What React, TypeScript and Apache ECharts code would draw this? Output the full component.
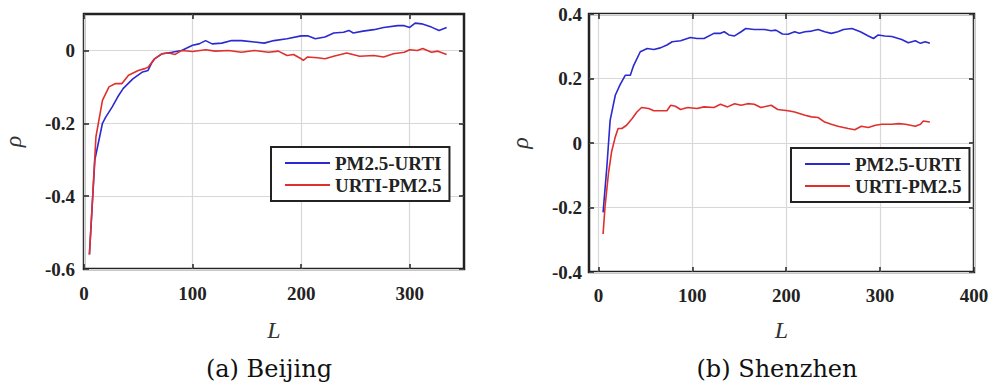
import React, { useEffect, useRef } from "react";
import * as echarts from "echarts";

// Beijing (a)
const bjBlueL = [5, 10, 17, 20, 26, 31, 36, 45, 54, 59, 62, 65, 72, 81, 90, 100, 106, 112, 118, 127, 136, 145, 157, 166, 175, 187, 200, 206, 213, 222, 230, 239, 244, 248, 257, 267, 276, 289, 295, 300, 305, 311, 320, 327, 334];
const bjBlueV = [-0.56, -0.30, -0.20, -0.183, -0.155, -0.128, -0.105, -0.078, -0.059, -0.055, -0.036, -0.023, -0.009, -0.005, 0.0, 0.014, 0.018, 0.027, 0.018, 0.02, 0.027, 0.027, 0.023, 0.02, 0.027, 0.032, 0.04, 0.04, 0.032, 0.037, 0.048, 0.05, 0.055, 0.048, 0.053, 0.057, 0.063, 0.068, 0.068, 0.063, 0.075, 0.073, 0.064, 0.055, 0.063];
const bjRedL = [5, 11, 17, 23, 29, 35, 41, 50, 56, 59, 65, 72, 78, 84, 90, 100, 112, 121, 133, 145, 157, 170, 179, 187, 193, 200, 202, 206, 215, 222, 230, 242, 254, 267, 276, 285, 295, 300, 307, 312, 320, 326, 334];
const bjRedV = [-0.56, -0.237, -0.137, -0.1, -0.091, -0.091, -0.068, -0.055, -0.05, -0.046, -0.023, -0.009, -0.007, -0.011, 0.0, -0.003, 0.002, -0.002, 0.0, -0.005, 0.0, -0.005, -0.002, -0.014, -0.011, -0.023, -0.027, -0.018, -0.02, -0.023, -0.016, -0.007, -0.016, -0.014, -0.018, -0.009, -0.005, 0.002, 0.0, 0.005, -0.005, -0.002, -0.011];

// Shenzhen (b)
const szBlueL = [5, 9, 12.5, 18, 23, 28.6, 34, 37.5, 44.6, 52, 59, 66, 73, 78.6, 87.5, 98, 105, 112.5, 123, 130, 134, 139, 145, 152, 157, 166, 177, 184, 189, 196, 202, 209, 214, 220, 227, 234, 241, 248, 255, 261, 270, 279, 287.5, 293, 298, 305, 312.5, 323, 330, 337.5, 343, 348, 353];
const szBlueV = [-0.215, -0.075, 0.07, 0.148, 0.18, 0.21, 0.21, 0.24, 0.283, 0.293, 0.29, 0.295, 0.304, 0.314, 0.317, 0.327, 0.324, 0.324, 0.34, 0.34, 0.345, 0.335, 0.332, 0.345, 0.355, 0.352, 0.352, 0.348, 0.35, 0.338, 0.337, 0.345, 0.34, 0.345, 0.347, 0.352, 0.345, 0.34, 0.345, 0.352, 0.355, 0.345, 0.332, 0.324, 0.335, 0.332, 0.33, 0.321, 0.311, 0.317, 0.309, 0.314, 0.309];
const szRedL = [5, 7, 10.7, 14, 18, 21, 25, 30, 36, 41, 46, 53.6, 59, 66, 73, 77, 82, 87.5, 95, 105, 112.5, 123, 130, 137.5, 145, 152, 159, 166, 173, 184, 191, 202, 209, 220, 227, 234, 241, 248, 255, 266, 273, 280, 287.5, 295, 302, 312.5, 320, 327, 337.5, 343, 346, 353];
const szRedV = [-0.282, -0.2, -0.095, -0.028, 0.019, 0.045, 0.045, 0.055, 0.076, 0.096, 0.11, 0.107, 0.1, 0.1, 0.1, 0.117, 0.114, 0.104, 0.11, 0.107, 0.112, 0.11, 0.12, 0.112, 0.122, 0.117, 0.122, 0.12, 0.11, 0.117, 0.104, 0.1, 0.096, 0.086, 0.081, 0.079, 0.065, 0.058, 0.052, 0.045, 0.041, 0.052, 0.048, 0.055, 0.058, 0.058, 0.06, 0.058, 0.052, 0.058, 0.068, 0.065];

const seriesNames = ["PM2.5-URTI", "URTI-PM2.5"];
const captions = ["(a) Beijing", "(b) Shenzhen"];
const bjXTicks = [0, 100, 200, 300];
const bjYTicks = [-0.6, -0.4, -0.2, 0];
const szXTicks = [0, 100, 200, 300, 400];
const szYTicks = [-0.4, -0.2, 0, 0.2, 0.4];
const blue = "#2a2ad0";
const red = "#e0302e";

const zip = (xs: number[], ys: number[]) => xs.map((x, i) => [x, ys[i]]);

const nameFont = { fontFamily: "Liberation Serif", fontStyle: "italic", fontWeight: "normal", fontSize: 24, color: "#333" };
const tickLine = { color: "#222", width: 1.5 };

const fmtX = (v: number) => String(Math.round(v));
const fmtY = (v: number) => {
  const r = Math.round(v * 10);
  if (r === 0) return "0";
  return (r / 10).toFixed(1);
};

type PanelCfg = {
  grid: { left: number; top: number; width: number; height: number };
  xmin: number;
  xmax: number;
  ymin: number;
  ymax: number;
  xTicks: number[];
  yTicks: number[];
  xLabelOffset: number;
  yLabelOffset: number;
};

const panels: PanelCfg[] = [
  { grid: { left: 81, top: 14, width: 383, height: 255 }, xmin: 0, xmax: 350, ymin: -0.6, ymax: 0.1, xTicks: bjXTicks, yTicks: bjYTicks, xLabelOffset: 24, yLabelOffset: 9 },
  { grid: { left: 589, top: 14, width: 385, height: 258 }, xmin: -10, xmax: 400, ymin: -0.4, ymax: 0.4, xTicks: szXTicks, yTicks: szYTicks, xLabelOffset: 23, yLabelOffset: 7 },
];

function makeAxes(gridIndex: number, p: PanelCfg, xNameGap: number, yNameGap: number) {
  const xBase = { gridIndex, type: "value", min: p.xmin, max: p.xmax, axisLine: { show: false, onZero: false } };
  const yBase = { gridIndex, type: "value", min: p.ymin, max: p.ymax, axisLine: { show: false, onZero: false } };
  const xTick = { show: true, inside: true, length: 5, lineStyle: tickLine, customValues: p.xTicks };
  const yTick = { show: true, inside: true, length: 5, lineStyle: tickLine, customValues: p.yTicks };
  const xAxes = [
    {
      ...xBase,
      position: "bottom",
      name: "L",
      nameLocation: "middle",
      nameGap: xNameGap,
      nameTextStyle: nameFont,
      axisTick: xTick,
      axisLabel: { show: false, customValues: p.xTicks },
      splitLine: { show: true, lineStyle: { color: "#d8d8d8", width: 1.2 } },
    },
    { ...xBase, position: "top", axisTick: xTick, axisLabel: { show: false, customValues: p.xTicks }, splitLine: { show: false } },
  ];
  const yAxes = [
    {
      ...yBase,
      position: "left",
      name: "ρ",
      nameLocation: "middle",
      nameGap: yNameGap,
      nameRotate: 90,
      nameTextStyle: nameFont,
      axisTick: yTick,
      axisLabel: { show: false, customValues: p.yTicks },
      splitLine: { show: true, lineStyle: { color: "#d8d8d8", width: 1.2 } },
    },
    { ...yBase, position: "right", axisTick: yTick, axisLabel: { show: false, customValues: p.yTicks }, splitLine: { show: false } },
  ];
  return { xAxes, yAxes };
}

function labelText(text: string, x: number, y: number, align: string, vAlign: string) {
  return {
    type: "text",
    x,
    y,
    silent: true,
    style: {
      text,
      fill: "#222",
      fontFamily: "Liberation Serif",
      fontWeight: "bold",
      fontSize: 19,
      font: "bold 19px 'Liberation Serif'",
      align,
      textAlign: align,
      verticalAlign: vAlign,
      textVerticalAlign: vAlign,
    },
  };
}

export default function App() {
  const ref = useRef<HTMLDivElement>(null);
  useEffect(() => {
    if (!ref.current) return;
    const chart = echarts.init(ref.current, null, { renderer: "svg" });
    const a = makeAxes(0, panels[0], 49, 59);
    const b = makeAxes(1, panels[1], 46, 57);
    const lineBase = { type: "line", symbol: "none", showSymbol: false, silent: true };
    const legendBase = {
      orient: "vertical",
      icon: "rect",
      itemWidth: 45,
      itemHeight: 2,
      itemGap: 2,
      borderColor: "#222",
      borderWidth: 2,
      backgroundColor: "#fff",
      padding: [6, 8, 6, 14],
      selectedMode: false,
      textStyle: { fontFamily: "Liberation Serif", fontWeight: "bold", fontSize: 19, color: "#222", lineHeight: 20 },
      data: seriesNames,
    };
    chart.setOption({
      animation: false,
      backgroundColor: "#fff",
      grid: panels.map((p) => ({ ...p.grid, show: true, borderColor: "#222", borderWidth: 2.5, backgroundColor: "transparent" })),
      xAxis: [...a.xAxes, ...b.xAxes],
      yAxis: [...a.yAxes, ...b.yAxes],
      legend: [
        { ...legendBase, left: 271, top: 147 },
        { ...legendBase, left: 791, top: 148 },
      ],
      title: [
        { text: captions[0], left: 264, top: 352, textAlign: "center", textStyle: { fontFamily: "DejaVu Serif", fontWeight: "normal", fontSize: 24, color: "#111" } },
        { text: captions[1], left: 772, top: 352, textAlign: "center", textStyle: { fontFamily: "DejaVu Serif", fontWeight: "normal", fontSize: 24, color: "#111" } },
      ],
      series: [
        { ...lineBase, name: seriesNames[0], xAxisIndex: 0, yAxisIndex: 0, data: zip(bjBlueL, bjBlueV), lineStyle: { color: blue, width: 1.6 }, itemStyle: { color: blue } },
        { ...lineBase, name: seriesNames[1], xAxisIndex: 0, yAxisIndex: 0, data: zip(bjRedL, bjRedV), lineStyle: { color: red, width: 1.6 }, itemStyle: { color: red } },
        { ...lineBase, name: seriesNames[0], xAxisIndex: 2, yAxisIndex: 2, data: zip(szBlueL, szBlueV), lineStyle: { color: blue, width: 1.6 }, itemStyle: { color: blue } },
        { ...lineBase, name: seriesNames[1], xAxisIndex: 2, yAxisIndex: 2, data: zip(szRedL, szRedV), lineStyle: { color: red, width: 1.6 }, itemStyle: { color: red } },
      ],
    });

    // Tick labels placed through the chart's own scales
    const toPx = (gi: number, p: PanelCfg, x: number, y: number): number[] => {
      let pt: any = null;
      try {
        pt = chart.convertToPixel({ gridIndex: gi } as any, [x, y]);
      } catch (e) {
        pt = null;
      }
      if (!pt || !isFinite(pt[0]) || !isFinite(pt[1])) {
        pt = [
          p.grid.left + ((x - p.xmin) / (p.xmax - p.xmin)) * p.grid.width,
          p.grid.top + ((p.ymax - y) / (p.ymax - p.ymin)) * p.grid.height,
        ];
      }
      return pt;
    };
    const elems: any[] = [];
    panels.forEach((p, gi) => {
      p.xTicks.forEach((v) => {
        const pt = toPx(gi, p, v, p.ymin);
        elems.push(labelText(fmtX(v), pt[0], pt[1] + p.xLabelOffset, "center", "middle"));
      });
      p.yTicks.forEach((v) => {
        const pt = toPx(gi, p, p.xmin, v);
        elems.push(labelText(fmtY(v), pt[0] - p.yLabelOffset, pt[1], "right", "middle"));
      });
    });
    chart.setOption({ graphic: elems });
    return () => chart.dispose();
  }, []);
  return <div ref={ref} style={{ position: "fixed", left: 0, top: 0, width: 1000, height: 383, background: "#fff" }} />;
}
